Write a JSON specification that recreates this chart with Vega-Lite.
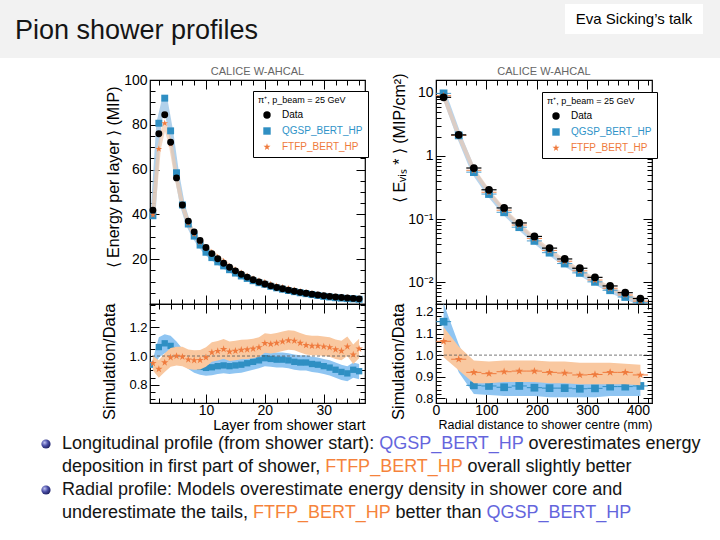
{
  "$schema": "https://vega.github.io/schema/vega-lite/v6.json",
  "background": "white",
  "padding": 0,
  "bounds": "flush",
  "columns": 4,
  "align": "each",
  "spacing": 0,
  "config": {
    "font": "Liberation Sans",
    "view": {"stroke": null},
    "axis": {"domain": false, "grid": false, "labelColor": "black", "titleColor": "black", "tickColor": "black", "titleFontWeight": "normal", "labelFont": "Liberation Sans", "titleFont": "Liberation Sans", "tickWidth": 1, "labelFlush": false, "labelOverlap": false}
  },
  "resolve": {"scale": {"x": "independent", "y": "independent", "color": "independent", "shape": "independent"}},
  "datasets": {
    "blank": [{"t": ""}],
    "long": [
      {"layer": 1, "Data": 41.9, "QGSP_BERT_HP": 39.4, "FTFP_BERT_HP": 39.8, "rq": 0.94, "rq_lo": 0.9, "rq_hi": 0.98, "rf": 0.95, "rf_lo": 0.9, "rf_hi": 1.0},
      {"layer": 2, "Data": 76.0, "QGSP_BERT_HP": 80.7, "FTFP_BERT_HP": 69.2, "rq": 1.062, "rq_lo": 0.99, "rq_hi": 1.13, "rf": 0.91, "rf_lo": 0.85, "rf_hi": 0.97},
      {"layer": 3, "Data": 84.5, "QGSP_BERT_HP": 91.9, "FTFP_BERT_HP": 80.7, "rq": 1.088, "rq_lo": 1.02, "rq_hi": 1.15, "rf": 0.955, "rf_lo": 0.89, "rf_hi": 1.02},
      {"layer": 4, "Data": 72.2, "QGSP_BERT_HP": 77.3, "FTFP_BERT_HP": 71.5, "rq": 1.07, "rq_lo": 1.0, "rq_hi": 1.14, "rf": 0.99, "rf_lo": 0.925, "rf_hi": 1.055},
      {"layer": 5, "Data": 56.3, "QGSP_BERT_HP": 58.6, "FTFP_BERT_HP": 56.3, "rq": 1.04, "rq_lo": 0.97, "rq_hi": 1.1, "rf": 1.0, "rf_lo": 0.935, "rf_hi": 1.065},
      {"layer": 6, "Data": 44.2, "QGSP_BERT_HP": 44.2, "FTFP_BERT_HP": 44.0, "rq": 1.0, "rq_lo": 0.945, "rq_hi": 1.05, "rf": 0.995, "rf_lo": 0.93, "rf_hi": 1.065},
      {"layer": 7, "Data": 37.0, "QGSP_BERT_HP": 35.7, "FTFP_BERT_HP": 36.1, "rq": 0.965, "rq_lo": 0.91, "rq_hi": 1.015, "rf": 0.975, "rf_lo": 0.91, "rf_hi": 1.045},
      {"layer": 8, "Data": 32.2, "QGSP_BERT_HP": 30.3, "FTFP_BERT_HP": 31.2, "rq": 0.94, "rq_lo": 0.885, "rq_hi": 0.99, "rf": 0.97, "rf_lo": 0.905, "rf_hi": 1.04},
      {"layer": 9, "Data": 28.4, "QGSP_BERT_HP": 26.3, "FTFP_BERT_HP": 27.6, "rq": 0.925, "rq_lo": 0.87, "rq_hi": 0.975, "rf": 0.972, "rf_lo": 0.907, "rf_hi": 1.042},
      {"layer": 10, "Data": 25.2, "QGSP_BERT_HP": 23.1, "FTFP_BERT_HP": 24.9, "rq": 0.918, "rq_lo": 0.863, "rq_hi": 0.968, "rf": 0.99, "rf_lo": 0.925, "rf_hi": 1.06},
      {"layer": 11, "Data": 22.5, "QGSP_BERT_HP": 20.7, "FTFP_BERT_HP": 23.1, "rq": 0.922, "rq_lo": 0.867, "rq_hi": 0.972, "rf": 1.025, "rf_lo": 0.96, "rf_hi": 1.095},
      {"layer": 12, "Data": 20.2, "QGSP_BERT_HP": 18.8, "FTFP_BERT_HP": 20.9, "rq": 0.93, "rq_lo": 0.875, "rq_hi": 0.98, "rf": 1.034, "rf_lo": 0.969, "rf_hi": 1.104},
      {"layer": 13, "Data": 18.2, "QGSP_BERT_HP": 17.0, "FTFP_BERT_HP": 19.1, "rq": 0.935, "rq_lo": 0.88, "rq_hi": 0.985, "rf": 1.047, "rf_lo": 0.982, "rf_hi": 1.117},
      {"layer": 14, "Data": 16.4, "QGSP_BERT_HP": 15.3, "FTFP_BERT_HP": 16.9, "rq": 0.93, "rq_lo": 0.875, "rq_hi": 0.98, "rf": 1.03, "rf_lo": 0.965, "rf_hi": 1.1},
      {"layer": 15, "Data": 14.8, "QGSP_BERT_HP": 13.8, "FTFP_BERT_HP": 15.3, "rq": 0.935, "rq_lo": 0.88, "rq_hi": 0.985, "rf": 1.035, "rf_lo": 0.97, "rf_hi": 1.105},
      {"layer": 16, "Data": 13.3, "QGSP_BERT_HP": 12.5, "FTFP_BERT_HP": 13.9, "rq": 0.94, "rq_lo": 0.885, "rq_hi": 0.99, "rf": 1.042, "rf_lo": 0.977, "rf_hi": 1.112},
      {"layer": 17, "Data": 12.0, "QGSP_BERT_HP": 11.4, "FTFP_BERT_HP": 12.5, "rq": 0.95, "rq_lo": 0.895, "rq_hi": 1.0, "rf": 1.045, "rf_lo": 0.98, "rf_hi": 1.115},
      {"layer": 18, "Data": 10.8, "QGSP_BERT_HP": 10.4, "FTFP_BERT_HP": 11.3, "rq": 0.96, "rq_lo": 0.905, "rq_hi": 1.01, "rf": 1.05, "rf_lo": 0.985, "rf_hi": 1.12},
      {"layer": 19, "Data": 9.8, "QGSP_BERT_HP": 9.5, "FTFP_BERT_HP": 10.4, "rq": 0.97, "rq_lo": 0.915, "rq_hi": 1.02, "rf": 1.06, "rf_lo": 0.995, "rf_hi": 1.13},
      {"layer": 20, "Data": 8.9, "QGSP_BERT_HP": 8.8, "FTFP_BERT_HP": 9.7, "rq": 0.985, "rq_lo": 0.93, "rq_hi": 1.035, "rf": 1.088, "rf_lo": 1.023, "rf_hi": 1.158},
      {"layer": 21, "Data": 8.1, "QGSP_BERT_HP": 7.9, "FTFP_BERT_HP": 8.8, "rq": 0.98, "rq_lo": 0.925, "rq_hi": 1.03, "rf": 1.083, "rf_lo": 1.018, "rf_hi": 1.153},
      {"layer": 22, "Data": 7.4, "QGSP_BERT_HP": 7.2, "FTFP_BERT_HP": 8.1, "rq": 0.975, "rq_lo": 0.92, "rq_hi": 1.025, "rf": 1.09, "rf_lo": 1.025, "rf_hi": 1.16},
      {"layer": 23, "Data": 6.8, "QGSP_BERT_HP": 6.6, "FTFP_BERT_HP": 7.5, "rq": 0.975, "rq_lo": 0.92, "rq_hi": 1.025, "rf": 1.1, "rf_lo": 1.035, "rf_hi": 1.17},
      {"layer": 24, "Data": 6.2, "QGSP_BERT_HP": 6.0, "FTFP_BERT_HP": 6.9, "rq": 0.97, "rq_lo": 0.915, "rq_hi": 1.02, "rf": 1.108, "rf_lo": 1.043, "rf_hi": 1.178},
      {"layer": 25, "Data": 5.7, "QGSP_BERT_HP": 5.5, "FTFP_BERT_HP": 6.3, "rq": 0.96, "rq_lo": 0.905, "rq_hi": 1.01, "rf": 1.105, "rf_lo": 1.04, "rf_hi": 1.175},
      {"layer": 26, "Data": 5.2, "QGSP_BERT_HP": 5.0, "FTFP_BERT_HP": 5.7, "rq": 0.955, "rq_lo": 0.9, "rq_hi": 1.005, "rf": 1.09, "rf_lo": 1.025, "rf_hi": 1.16},
      {"layer": 27, "Data": 4.8, "QGSP_BERT_HP": 4.6, "FTFP_BERT_HP": 5.2, "rq": 0.955, "rq_lo": 0.9, "rq_hi": 1.005, "rf": 1.075, "rf_lo": 1.01, "rf_hi": 1.145},
      {"layer": 28, "Data": 4.4, "QGSP_BERT_HP": 4.2, "FTFP_BERT_HP": 4.7, "rq": 0.945, "rq_lo": 0.89, "rq_hi": 0.995, "rf": 1.07, "rf_lo": 1.005, "rf_hi": 1.14},
      {"layer": 29, "Data": 4.0, "QGSP_BERT_HP": 3.8, "FTFP_BERT_HP": 4.3, "rq": 0.94, "rq_lo": 0.885, "rq_hi": 0.99, "rf": 1.07, "rf_lo": 1.005, "rf_hi": 1.14},
      {"layer": 30, "Data": 3.7, "QGSP_BERT_HP": 3.4, "FTFP_BERT_HP": 3.9, "rq": 0.93, "rq_lo": 0.875, "rq_hi": 0.98, "rf": 1.065, "rf_lo": 1.0, "rf_hi": 1.135},
      {"layer": 31, "Data": 3.4, "QGSP_BERT_HP": 3.1, "FTFP_BERT_HP": 3.6, "rq": 0.92, "rq_lo": 0.865, "rq_hi": 0.97, "rf": 1.06, "rf_lo": 0.995, "rf_hi": 1.13},
      {"layer": 32, "Data": 3.1, "QGSP_BERT_HP": 2.8, "FTFP_BERT_HP": 3.2, "rq": 0.905, "rq_lo": 0.85, "rq_hi": 0.955, "rf": 1.045, "rf_lo": 0.98, "rf_hi": 1.115},
      {"layer": 33, "Data": 2.9, "QGSP_BERT_HP": 2.6, "FTFP_BERT_HP": 3.0, "rq": 0.89, "rq_lo": 0.835, "rq_hi": 0.94, "rf": 1.035, "rf_lo": 0.97, "rf_hi": 1.105},
      {"layer": 34, "Data": 2.7, "QGSP_BERT_HP": 2.4, "FTFP_BERT_HP": 2.9, "rq": 0.88, "rq_lo": 0.825, "rq_hi": 0.93, "rf": 1.065, "rf_lo": 1.0, "rf_hi": 1.135},
      {"layer": 35, "Data": 2.5, "QGSP_BERT_HP": 2.3, "FTFP_BERT_HP": 2.5, "rq": 0.905, "rq_lo": 0.85, "rq_hi": 0.955, "rf": 1.01, "rf_lo": 0.945, "rf_hi": 1.08},
      {"layer": 36, "Data": 2.3, "QGSP_BERT_HP": 2.1, "FTFP_BERT_HP": 2.4, "rq": 0.895, "rq_lo": 0.84, "rq_hi": 0.945, "rf": 1.05, "rf_lo": 0.985, "rf_hi": 1.12}
    ],
    "rad": [
      {"r": 15, "r_lo": 0, "r_hi": 30, "Data": 8.5, "QGSP_BERT_HP": 9.82, "FTFP_BERT_HP": 9.04, "rq": 1.155, "rq_lo": 1.1, "rq_hi": 1.24, "rf": 1.064, "rf_lo": 0.99, "rf_hi": 1.13},
      {"r": 45, "r_lo": 30, "r_hi": 60, "Data": 2.16, "QGSP_BERT_HP": 2.12, "FTFP_BERT_HP": 2.12, "rq": 0.98, "rq_lo": 0.92, "rq_hi": 1.05, "rf": 0.981, "rf_lo": 0.93, "rf_hi": 1.04},
      {"r": 75, "r_lo": 60, "r_hi": 90, "Data": 0.644, "QGSP_BERT_HP": 0.554, "FTFP_BERT_HP": 0.592, "rq": 0.86, "rq_lo": 0.82, "rq_hi": 0.9, "rf": 0.92, "rf_lo": 0.87, "rf_hi": 0.975},
      {"r": 105, "r_lo": 90, "r_hi": 120, "Data": 0.291, "QGSP_BERT_HP": 0.249, "FTFP_BERT_HP": 0.266, "rq": 0.857, "rq_lo": 0.815, "rq_hi": 0.89, "rf": 0.914, "rf_lo": 0.87, "rf_hi": 0.97},
      {"r": 135, "r_lo": 120, "r_hi": 150, "Data": 0.15, "QGSP_BERT_HP": 0.128, "FTFP_BERT_HP": 0.138, "rq": 0.851, "rq_lo": 0.81, "rq_hi": 0.89, "rf": 0.923, "rf_lo": 0.875, "rf_hi": 0.975},
      {"r": 165, "r_lo": 150, "r_hi": 180, "Data": 0.0867, "QGSP_BERT_HP": 0.0743, "FTFP_BERT_HP": 0.0803, "rq": 0.857, "rq_lo": 0.81, "rq_hi": 0.895, "rf": 0.926, "rf_lo": 0.875, "rf_hi": 0.975},
      {"r": 195, "r_lo": 180, "r_hi": 210, "Data": 0.053, "QGSP_BERT_HP": 0.045, "FTFP_BERT_HP": 0.0491, "rq": 0.849, "rq_lo": 0.81, "rq_hi": 0.89, "rf": 0.926, "rf_lo": 0.875, "rf_hi": 0.975},
      {"r": 225, "r_lo": 210, "r_hi": 240, "Data": 0.0346, "QGSP_BERT_HP": 0.0293, "FTFP_BERT_HP": 0.0318, "rq": 0.847, "rq_lo": 0.805, "rq_hi": 0.89, "rf": 0.92, "rf_lo": 0.87, "rf_hi": 0.97},
      {"r": 255, "r_lo": 240, "r_hi": 270, "Data": 0.0233, "QGSP_BERT_HP": 0.0197, "FTFP_BERT_HP": 0.0214, "rq": 0.847, "rq_lo": 0.805, "rq_hi": 0.885, "rf": 0.917, "rf_lo": 0.87, "rf_hi": 0.97},
      {"r": 285, "r_lo": 270, "r_hi": 300, "Data": 0.0166, "QGSP_BERT_HP": 0.014, "FTFP_BERT_HP": 0.0151, "rq": 0.844, "rq_lo": 0.805, "rq_hi": 0.885, "rf": 0.908, "rf_lo": 0.865, "rf_hi": 0.965},
      {"r": 315, "r_lo": 300, "r_hi": 330, "Data": 0.0119, "QGSP_BERT_HP": 0.0101, "FTFP_BERT_HP": 0.0108, "rq": 0.846, "rq_lo": 0.805, "rq_hi": 0.885, "rf": 0.91, "rf_lo": 0.865, "rf_hi": 0.965},
      {"r": 345, "r_lo": 330, "r_hi": 360, "Data": 0.0087, "QGSP_BERT_HP": 0.00743, "FTFP_BERT_HP": 0.008, "rq": 0.854, "rq_lo": 0.81, "rq_hi": 0.89, "rf": 0.92, "rf_lo": 0.865, "rf_hi": 0.965},
      {"r": 375, "r_lo": 360, "r_hi": 390, "Data": 0.0068, "QGSP_BERT_HP": 0.00581, "FTFP_BERT_HP": 0.00626, "rq": 0.854, "rq_lo": 0.81, "rq_hi": 0.89, "rf": 0.92, "rf_lo": 0.865, "rf_hi": 0.96},
      {"r": 405, "r_lo": 390, "r_hi": 420, "Data": 0.0055, "QGSP_BERT_HP": 0.00471, "FTFP_BERT_HP": 0.00499, "rq": 0.857, "rq_lo": 0.81, "rq_hi": 0.895, "rf": 0.908, "rf_lo": 0.86, "rf_hi": 0.955}
    ]
  },
  "concat": [
    {"width": 150, "height": 58, "view": {"fill": "#f2f2f2", "stroke": null}, "data": {"name": "blank"}, "mark": {"type": "text"}, "encoding": {"text": {"field": "t"}}},
    {"width": 215, "height": 58, "view": {"fill": "#f2f2f2", "stroke": null}, "data": {"name": "blank"}, "mark": {"type": "text"}, "encoding": {"text": {"field": "t"}}},
    {"width": 71, "height": 58, "view": {"fill": "#f2f2f2", "stroke": null}, "data": {"name": "blank"}, "mark": {"type": "text"}, "encoding": {"text": {"field": "t"}}},
    {
      "width": 284, "height": 58,
      "view": {"fill": "#f2f2f2", "stroke": null},
      "data": {"values": [{"item": "title", "text": "Pion shower profiles"}, {"item": "badge", "text": "Eva Sicking’s talk"}]},
      "encoding": {
        "x": {"field": "item", "type": "nominal", "scale": {"type": "point", "domain": ["title", "badge"], "range": [-421, 198], "padding": 0}, "axis": null},
        "y": {"field": "item", "type": "nominal", "scale": {"type": "point", "domain": ["title", "badge"], "range": [31, 19], "padding": 0}, "axis": null}
      },
      "layer": [
        {"transform": [{"filter": "datum.item === 'badge'"}], "mark": {"type": "point", "shape": "M-1,-0.217L1,-0.217L1,0.217L-1,0.217Z", "filled": true, "color": "white", "size": 19044, "opacity": 1, "strokeWidth": 0}},
        {"transform": [{"filter": "datum.item === 'title'"}], "mark": {"type": "text", "align": "left", "baseline": "middle", "fontSize": 27, "font": "Liberation Sans", "color": "#151515"}, "encoding": {"text": {"field": "text"}}},
        {"transform": [{"filter": "datum.item === 'badge'"}], "mark": {"type": "text", "align": "center", "baseline": "middle", "fontSize": 15, "font": "Liberation Sans", "color": "black"}, "encoding": {"text": {"field": "text"}}}
      ]
    },

    {"width": 150, "height": 22, "data": {"name": "blank"}, "mark": {"type": "text"}, "encoding": {"text": {"field": "t"}}},
    {"width": 215, "height": 22, "data": {"name": "blank"}, "mark": {"type": "text"}, "encoding": {"text": {"field": "t"}}},
    {"width": 71, "height": 22, "data": {"name": "blank"}, "mark": {"type": "text"}, "encoding": {"text": {"field": "t"}}},
    {"width": 284, "height": 22, "data": {"name": "blank"}, "mark": {"type": "text"}, "encoding": {"text": {"field": "t"}}},

    {"width": 150, "height": 224, "data": {"name": "blank"}, "mark": {"type": "text"}, "encoding": {"text": {"field": "t"}}},
    {
      "width": 215, "height": 224,
      "title": {"text": "CALICE W-AHCAL", "fontSize": 11, "fontWeight": "normal", "color": "#666666", "font": "Liberation Sans", "offset": -4},
      "view": {"stroke": "black", "strokeWidth": 1.2, "fill": "white"},
      "data": {"name": "long"},
      "resolve": {"axis": {"x": "independent", "y": "independent"}},
      "layer": [
        {"mark": {"type": "line", "color": "#a3c9e8", "strokeWidth": 5, "opacity": 0.85},
         "encoding": {
           "x": {"field": "layer", "type": "quantitative", "scale": {"domain": [0.5, 37], "nice": false, "zero": false},
             "axis": {"orient": "bottom", "values": [2,4,6,8,10,12,14,16,18,20,22,24,26,28,30,32,34,36], "labels": false, "title": null, "tickSize": {"condition": {"test": "datum.value % 10 === 0", "value": -9}, "value": -5}}},
           "y": {"field": "QGSP_BERT_HP", "type": "quantitative", "scale": {"domain": [0, 100], "nice": false},
             "axis": {"orient": "left", "values": [5,10,15,20,25,30,35,40,45,50,55,60,65,70,75,80,85,90,95,100], "labelExpr": "datum.value % 20 === 0 ? datum.label : ''", "labelFontSize": 14, "labelPadding": 12, "tickSize": {"condition": {"test": "datum.value % 20 === 0", "value": -9}, "value": -5}, "title": "⟨ Energy per layer ⟩ (MIP)", "titleFontSize": 16, "titleAngle": -90, "titleAlign": "right", "titleBaseline": "middle", "titleX": -37, "titleY": 6}}
         }},
        {"mark": {"type": "line", "color": "#eec9ad", "strokeWidth": 4, "opacity": 0.7},
         "encoding": {"x": {"field": "layer", "type": "quantitative", "axis": null}, "y": {"field": "FTFP_BERT_HP", "type": "quantitative", "axis": null}}},
        {"transform": [{"fold": ["Data", "QGSP_BERT_HP", "FTFP_BERT_HP"], "as": ["series", "value"]}],
         "mark": {"type": "point", "filled": true, "size": 48, "opacity": 1, "strokeWidth": 0},
         "encoding": {
           "x": {"field": "layer", "type": "quantitative", "axis": {"orient": "top", "values": [2,4,6,8,10,12,14,16,18,20,22,24,26,28,30,32,34,36], "labels": false, "title": null, "tickSize": {"condition": {"test": "datum.value % 10 === 0", "value": -9}, "value": -5}}},
           "y": {"field": "value", "type": "quantitative", "axis": {"orient": "right", "values": [5,10,15,20,25,30,35,40,45,50,55,60,65,70,75,80,85,90,95,100], "labels": false, "title": null, "tickSize": {"condition": {"test": "datum.value % 20 === 0", "value": -9}, "value": -5}}},
           "color": {"field": "series", "type": "nominal", "scale": {"domain": ["Data", "QGSP_BERT_HP", "FTFP_BERT_HP"], "range": ["black", "#2f8fc3", "#ef7b3e"]},
             "legend": {"orient": "none", "legendX": 103, "legendY": 11, "title": "π⁺, p_beam = 25 GeV", "titleFontSize": 9, "titleFontWeight": "normal", "titleColor": "black", "titlePadding": 5, "labelFontSize": 10, "labelColor": {"expr": "datum.value === 'Data' ? 'black' : (datum.value === 'QGSP_BERT_HP' ? '#2f93c8' : '#ee7a3c')"}, "symbolSize": 55, "rowPadding": 6, "padding": 5, "strokeColor": "black", "fillColor": "white", "symbolOffset": 4, "labelOffset": 10}},
           "shape": {"field": "series", "type": "nominal", "scale": {"domain": ["Data", "QGSP_BERT_HP", "FTFP_BERT_HP"], "range": ["circle", "square", "M0,-1L0.2245,-0.309L0.951,-0.309L0.363,0.118L0.588,0.809L0,0.382L-0.588,0.809L-0.363,0.118L-0.951,-0.309L-0.2245,-0.309Z"]},
             "legend": {"orient": "none", "legendX": 103, "legendY": 11, "title": "π⁺, p_beam = 25 GeV", "titleFontSize": 9, "titleFontWeight": "normal", "titleColor": "black", "titlePadding": 5, "labelFontSize": 10, "labelColor": {"expr": "datum.value === 'Data' ? 'black' : (datum.value === 'QGSP_BERT_HP' ? '#2f93c8' : '#ee7a3c')"}, "symbolSize": 55, "rowPadding": 6, "padding": 5, "strokeColor": "black", "fillColor": "white", "symbolOffset": 4, "labelOffset": 10}},
           "order": {"field": "series", "sort": "descending"}
         }}
      ]
    },
    {"width": 71, "height": 224, "data": {"name": "blank"}, "mark": {"type": "text"}, "encoding": {"text": {"field": "t"}}},
    {
      "width": 216, "height": 224,
      "title": {"text": "CALICE W-AHCAL", "fontSize": 11, "fontWeight": "normal", "color": "#666666", "font": "Liberation Sans", "offset": -4},
      "view": {"stroke": "black", "strokeWidth": 1.2, "fill": "white"},
      "data": {"name": "rad"},
      "resolve": {"axis": {"x": "independent", "y": "independent"}},
      "layer": [
        {"mark": {"type": "line", "color": "#a6cbe8", "strokeWidth": 5, "opacity": 0.8},
         "encoding": {
           "x": {"field": "r", "type": "quantitative", "scale": {"domain": [0, 428], "nice": false, "zero": false},
             "axis": {"orient": "bottom", "values": [0,20,40,60,80,100,120,140,160,180,200,220,240,260,280,300,320,340,360,380,400,420], "labels": false, "title": null, "tickSize": {"condition": {"test": "datum.value % 100 === 0", "value": -9}, "value": -5}}},
           "y": {"field": "QGSP_BERT_HP", "type": "quantitative", "scale": {"type": "log", "domain": [0.0045, 16], "nice": false},
             "axis": {"orient": "left", "values": [0.005,0.006,0.007,0.008,0.009,0.01,0.02,0.03,0.04,0.05,0.06,0.07,0.08,0.09,0.1,0.2,0.3,0.4,0.5,0.6,0.7,0.8,0.9,1,2,3,4,5,6,7,8,9,10], "labelExpr": "abs(log(datum.value)/LN10 - round(log(datum.value)/LN10)) > 0.001 ? '' : (datum.value > 5 ? '10' : (datum.value > 0.5 ? '1' : (datum.value > 0.05 ? '10⁻¹' : '10⁻²')))", "labelFontSize": 14, "labelPadding": 12, "tickSize": {"condition": {"test": "abs(log(datum.value)/LN10 - round(log(datum.value)/LN10)) < 0.001", "value": -9}, "value": -5}, "title": "⟨ Eᵥᵢₛ * ⟩ (MIP/cm²)", "titleFontSize": 16, "titleAngle": -90, "titleAlign": "right", "titleBaseline": "middle", "titleX": -37, "titleY": -7}}
         }},
        {"mark": {"type": "line", "color": "#e9c9b3", "strokeWidth": 4, "opacity": 0.7},
         "encoding": {"x": {"field": "r", "type": "quantitative", "axis": null}, "y": {"field": "FTFP_BERT_HP", "type": "quantitative", "axis": null}}},
        {"mark": {"type": "rule", "color": "#4a9ccc", "strokeWidth": 1},
         "encoding": {"x": {"field": "r_lo", "type": "quantitative", "axis": null}, "x2": {"field": "r_hi"}, "y": {"field": "QGSP_BERT_HP", "type": "quantitative", "axis": null}}},
        {"mark": {"type": "rule", "color": "#f08850", "strokeWidth": 1},
         "encoding": {"x": {"field": "r_lo", "type": "quantitative", "axis": null}, "x2": {"field": "r_hi"}, "y": {"field": "FTFP_BERT_HP", "type": "quantitative", "axis": null}}},
        {"mark": {"type": "rule", "color": "black", "strokeWidth": 1.2},
         "encoding": {"x": {"field": "r_lo", "type": "quantitative", "axis": null}, "x2": {"field": "r_hi"}, "y": {"field": "Data", "type": "quantitative", "axis": null}}},
        {"transform": [{"fold": ["Data", "QGSP_BERT_HP", "FTFP_BERT_HP"], "as": ["series", "value"]}],
         "mark": {"type": "point", "filled": true, "size": 60, "opacity": 1, "strokeWidth": 0},
         "encoding": {
           "x": {"field": "r", "type": "quantitative", "axis": {"orient": "top", "values": [0,20,40,60,80,100,120,140,160,180,200,220,240,260,280,300,320,340,360,380,400,420], "labels": false, "title": null, "tickSize": {"condition": {"test": "datum.value % 100 === 0", "value": -9}, "value": -5}}},
           "y": {"field": "value", "type": "quantitative", "axis": {"orient": "right", "values": [0.005,0.006,0.007,0.008,0.009,0.01,0.02,0.03,0.04,0.05,0.06,0.07,0.08,0.09,0.1,0.2,0.3,0.4,0.5,0.6,0.7,0.8,0.9,1,2,3,4,5,6,7,8,9,10], "labels": false, "title": null, "tickSize": {"condition": {"test": "abs(log(datum.value)/LN10 - round(log(datum.value)/LN10)) < 0.001", "value": -9}, "value": -5}}},
           "color": {"field": "series", "type": "nominal", "scale": {"domain": ["Data", "QGSP_BERT_HP", "FTFP_BERT_HP"], "range": ["black", "#2f8fc3", "#ef7b3e"]},
             "legend": {"orient": "none", "legendX": 106, "legendY": 12, "title": "π⁺, p_beam = 25 GeV", "titleFontSize": 9, "titleFontWeight": "normal", "titleColor": "black", "titlePadding": 5, "labelFontSize": 10, "labelColor": {"expr": "datum.value === 'Data' ? 'black' : (datum.value === 'QGSP_BERT_HP' ? '#2f93c8' : '#ee7a3c')"}, "symbolSize": 55, "rowPadding": 6, "padding": 5, "strokeColor": "black", "fillColor": "white", "symbolOffset": 4, "labelOffset": 10}},
           "shape": {"field": "series", "type": "nominal", "scale": {"domain": ["Data", "QGSP_BERT_HP", "FTFP_BERT_HP"], "range": ["circle", "square", "M0,-1L0.2245,-0.309L0.951,-0.309L0.363,0.118L0.588,0.809L0,0.382L-0.588,0.809L-0.363,0.118L-0.951,-0.309L-0.2245,-0.309Z"]},
             "legend": {"orient": "none", "legendX": 106, "legendY": 12, "title": "π⁺, p_beam = 25 GeV", "titleFontSize": 9, "titleFontWeight": "normal", "titleColor": "black", "titlePadding": 5, "labelFontSize": 10, "labelColor": {"expr": "datum.value === 'Data' ? 'black' : (datum.value === 'QGSP_BERT_HP' ? '#2f93c8' : '#ee7a3c')"}, "symbolSize": 55, "rowPadding": 6, "padding": 5, "strokeColor": "black", "fillColor": "white", "symbolOffset": 4, "labelOffset": 10}},
           "order": {"field": "series", "sort": "descending"}
         }}
      ]
    },

    {"width": 150, "height": 99, "data": {"name": "blank"}, "mark": {"type": "text"}, "encoding": {"text": {"field": "t"}}},
    {
      "width": 215, "height": 99,
      "view": {"stroke": "black", "strokeWidth": 1.2, "fill": "white"},
      "data": {"name": "long"},
      "resolve": {"axis": {"x": "independent", "y": "independent"}},
      "layer": [
        {"mark": {"type": "area", "color": "#8fc5f2", "opacity": 1, "clip": true},
         "encoding": {
           "x": {"field": "layer", "type": "quantitative", "scale": {"domain": [0.5, 37], "nice": false, "zero": false},
             "axis": {"orient": "bottom", "values": [2,4,6,8,10,12,14,16,18,20,22,24,26,28,30,32,34,36], "labelExpr": "datum.value % 10 === 0 ? datum.label : ''", "labelFontSize": 14, "labelPadding": 9, "tickSize": {"condition": {"test": "datum.value % 10 === 0", "value": -9}, "value": -5}, "title": "Layer from shower start", "titleFontSize": 14.5, "titleAlign": "right", "titleBaseline": "alphabetic", "titleX": 215, "titleY": 26}},
           "y": {"field": "rq_lo", "type": "quantitative", "scale": {"domain": [0.675, 1.36], "nice": false, "zero": false},
             "axis": {"orient": "left", "values": [0.7,0.75,0.8,0.85,0.9,0.95,1,1.05,1.1,1.15,1.2,1.25,1.3,1.35], "labelExpr": "abs(datum.value*5 - round(datum.value*5)) < 0.001 ? format(datum.value, '.1f') : ''", "labelFontSize": 13, "labelPadding": 12, "tickSize": {"condition": {"test": "abs(datum.value*5 - round(datum.value*5)) < 0.001", "value": -9}, "value": -5}, "title": "Simulation/Data", "titleFontSize": 16.5, "titleAngle": -90, "titleAlign": "right", "titleBaseline": "middle", "titleX": -41, "titleY": -1}},
           "y2": {"field": "rq_hi"}
         }},
        {"mark": {"type": "point", "shape": "square", "filled": true, "size": 40, "color": "#2f8fc3", "opacity": 1, "strokeWidth": 0, "clip": true},
         "encoding": {"x": {"field": "layer", "type": "quantitative", "axis": null}, "y": {"field": "rq", "type": "quantitative", "axis": null}}},
        {"mark": {"type": "area", "color": "#f9c8a0", "opacity": 1, "clip": true},
         "encoding": {"x": {"field": "layer", "type": "quantitative", "axis": null}, "y": {"field": "rf_lo", "type": "quantitative", "axis": null}, "y2": {"field": "rf_hi"}}},
        {"data": {"values": [{"ref": 1}]},
         "mark": {"type": "rule", "color": "#555555", "strokeWidth": 0.8, "strokeDash": [3, 2]},
         "encoding": {"y": {"field": "ref", "type": "quantitative", "axis": null}}},
        {"mark": {"type": "point", "shape": "M0,-1L0.2245,-0.309L0.951,-0.309L0.363,0.118L0.588,0.809L0,0.382L-0.588,0.809L-0.363,0.118L-0.951,-0.309L-0.2245,-0.309Z", "filled": true, "size": 60, "color": "#ef7b3e", "opacity": 1, "strokeWidth": 0, "clip": true},
         "encoding": {
           "x": {"field": "layer", "type": "quantitative", "axis": {"orient": "top", "values": [2,4,6,8,10,12,14,16,18,20,22,24,26,28,30,32,34,36], "labels": false, "title": null, "tickSize": {"condition": {"test": "datum.value % 10 === 0", "value": -9}, "value": -5}}},
           "y": {"field": "rf", "type": "quantitative", "axis": {"orient": "right", "values": [0.7,0.75,0.8,0.85,0.9,0.95,1,1.05,1.1,1.15,1.2,1.25,1.3,1.35], "labels": false, "title": null, "tickSize": {"condition": {"test": "abs(datum.value*5 - round(datum.value*5)) < 0.001", "value": -9}, "value": -5}}}
         }}
      ]
    },
    {"width": 71, "height": 99, "data": {"name": "blank"}, "mark": {"type": "text"}, "encoding": {"text": {"field": "t"}}},
    {
      "width": 216, "height": 99,
      "view": {"stroke": "black", "strokeWidth": 1.2, "fill": "white"},
      "data": {"name": "rad"},
      "resolve": {"axis": {"x": "independent", "y": "independent"}},
      "layer": [
        {"mark": {"type": "area", "color": "#8fc5f2", "opacity": 1, "clip": true},
         "encoding": {
           "x": {"field": "r", "type": "quantitative", "scale": {"domain": [0, 428], "nice": false, "zero": false},
             "axis": {"orient": "bottom", "values": [0,20,40,60,80,100,120,140,160,180,200,220,240,260,280,300,320,340,360,380,400,420], "labelExpr": "datum.value % 100 === 0 ? datum.label : ''", "labelFontSize": 14, "labelPadding": 9, "tickSize": {"condition": {"test": "datum.value % 100 === 0", "value": -9}, "value": -5}, "title": "Radial distance to shower centre (mm)", "titleFontSize": 12.5, "titleAlign": "right", "titleBaseline": "alphabetic", "titleX": 216, "titleY": 25}},
           "y": {"field": "rq_lo", "type": "quantitative", "scale": {"domain": [0.778, 1.237], "nice": false, "zero": false},
             "axis": {"orient": "left", "values": [0.78,0.8,0.82,0.84,0.86,0.88,0.9,0.92,0.94,0.96,0.98,1,1.02,1.04,1.06,1.08,1.1,1.12,1.14,1.16,1.18,1.2,1.22], "labelExpr": "abs(datum.value*10 - round(datum.value*10)) < 0.001 ? format(datum.value, '.1f') : ''", "labelFontSize": 13, "labelPadding": 12, "tickSize": {"condition": {"test": "abs(datum.value*10 - round(datum.value*10)) < 0.001", "value": -9}, "value": -5}, "title": "Simulation/Data", "titleFontSize": 16.5, "titleAngle": -90, "titleAlign": "right", "titleBaseline": "middle", "titleX": -38, "titleY": -1}},
           "y2": {"field": "rq_hi"}
         }},
        {"mark": {"type": "rule", "color": "#2f8fc3", "strokeWidth": 1, "clip": true},
         "encoding": {"x": {"field": "r_lo", "type": "quantitative", "axis": null}, "x2": {"field": "r_hi"}, "y": {"field": "rq", "type": "quantitative", "axis": null}}},
        {"mark": {"type": "point", "shape": "square", "filled": true, "size": 60, "color": "#2f8fc3", "opacity": 1, "strokeWidth": 0, "clip": true},
         "encoding": {"x": {"field": "r", "type": "quantitative", "axis": null}, "y": {"field": "rq", "type": "quantitative", "axis": null}}},
        {"mark": {"type": "area", "color": "#f9c8a0", "opacity": 1, "clip": true},
         "encoding": {"x": {"field": "r", "type": "quantitative", "axis": null}, "y": {"field": "rf_lo", "type": "quantitative", "axis": null}, "y2": {"field": "rf_hi"}}},
        {"data": {"values": [{"ref": 1}]},
         "mark": {"type": "rule", "color": "#555555", "strokeWidth": 0.8, "strokeDash": [3, 2]},
         "encoding": {"y": {"field": "ref", "type": "quantitative", "axis": null}}},
        {"mark": {"type": "rule", "color": "#ef7b3e", "strokeWidth": 1, "clip": true},
         "encoding": {"x": {"field": "r_lo", "type": "quantitative", "axis": null}, "x2": {"field": "r_hi"}, "y": {"field": "rf", "type": "quantitative", "axis": null}}},
        {"mark": {"type": "point", "shape": "M0,-1L0.2245,-0.309L0.951,-0.309L0.363,0.118L0.588,0.809L0,0.382L-0.588,0.809L-0.363,0.118L-0.951,-0.309L-0.2245,-0.309Z", "filled": true, "size": 70, "color": "#ef7b3e", "opacity": 1, "strokeWidth": 0, "clip": true},
         "encoding": {
           "x": {"field": "r", "type": "quantitative", "axis": {"orient": "top", "values": [0,20,40,60,80,100,120,140,160,180,200,220,240,260,280,300,320,340,360,380,400,420], "labels": false, "title": null, "tickSize": {"condition": {"test": "datum.value % 100 === 0", "value": -9}, "value": -5}}},
           "y": {"field": "rf", "type": "quantitative", "axis": {"orient": "right", "values": [0.78,0.8,0.82,0.84,0.86,0.88,0.9,0.92,0.94,0.96,0.98,1,1.02,1.04,1.06,1.08,1.1,1.12,1.14,1.16,1.18,1.2,1.22], "labels": false, "title": null, "tickSize": {"condition": {"test": "abs(datum.value*10 - round(datum.value*10)) < 0.001", "value": -9}, "value": -5}}}
         }}
      ]
    },

    {
      "width": 150, "height": 130,
      "encoding": {
        "x": {"field": "col", "type": "nominal", "scale": {"type": "point", "domain": ["bullet", "text"], "range": [46, 62], "padding": 0}, "axis": null},
        "y": {"field": "line", "type": "quantitative", "scale": {"domain": [1, 4], "range": [41, 110]}, "axis": null}
      },
      "layer": [
        {"data": {"values": [{"line": 1, "col": "bullet"}, {"line": 3, "col": "bullet"}]},
         "mark": {"type": "point", "filled": true, "size": 85, "strokeWidth": 0, "opacity": 1,
           "fill": {"gradient": "radial", "x1": 0.35, "y1": 0.35, "r1": 0, "x2": 0.35, "y2": 0.35, "r2": 0.7, "stops": [{"offset": 0, "color": "#c0c4f2"}, {"offset": 0.5, "color": "#4a4ea8"}, {"offset": 1, "color": "#1d1f5a"}]}}},
        {"data": {"values": [{"line": 1, "col": "text", "text": "Longitudinal profile (from shower start): QGSP_BERT_HP overestimates energy"}]},
         "mark": {"type": "text", "align": "left", "baseline": "middle", "fontSize": 18, "font": "Liberation Sans",
           "fill": {"gradient": "linear", "x1": 0, "y1": 0, "x2": 1, "y2": 0, "stops": [{"offset": 0, "color": "#151515"}, {"offset": 0.4928, "color": "#151515"}, {"offset": 0.4928, "color": "#6464dc"}, {"offset": 0.7269, "color": "#6464dc"}, {"offset": 0.7269, "color": "#151515"}, {"offset": 1, "color": "#151515"}]}},
         "encoding": {"text": {"field": "text"}}},
        {"data": {"values": [{"line": 2, "col": "text", "text": "deposition in first part of shower, FTFP_BERT_HP overall slightly better"}]},
         "mark": {"type": "text", "align": "left", "baseline": "middle", "fontSize": 18, "font": "Liberation Sans",
           "fill": {"gradient": "linear", "x1": 0, "y1": 0, "x2": 1, "y2": 0, "stops": [{"offset": 0, "color": "#151515"}, {"offset": 0.458, "color": "#151515"}, {"offset": 0.458, "color": "#f5823c"}, {"offset": 0.7084, "color": "#f5823c"}, {"offset": 0.7084, "color": "#151515"}, {"offset": 1, "color": "#151515"}]}},
         "encoding": {"text": {"field": "text"}}},
        {"data": {"values": [{"line": 3, "col": "text", "text": "Radial profile: Models overestimate energy density in shower core and"}]},
         "mark": {"type": "text", "align": "left", "baseline": "middle", "fontSize": 18, "font": "Liberation Sans", "color": "#151515"},
         "encoding": {"text": {"field": "text"}}},
        {"data": {"values": [{"line": 4, "col": "text", "text": "underestimate the tails, FTFP_BERT_HP better than QGSP_BERT_HP"}]},
         "mark": {"type": "text", "align": "left", "baseline": "middle", "fontSize": 18, "font": "Liberation Sans",
           "fill": {"gradient": "linear", "x1": 0, "y1": 0, "x2": 1, "y2": 0, "stops": [{"offset": 0, "color": "#151515"}, {"offset": 0.3307, "color": "#151515"}, {"offset": 0.3307, "color": "#f5823c"}, {"offset": 0.5815, "color": "#f5823c"}, {"offset": 0.5815, "color": "#151515"}, {"offset": 0.7413, "color": "#151515"}, {"offset": 0.7413, "color": "#6464dc"}, {"offset": 1, "color": "#6464dc"}]}},
         "encoding": {"text": {"field": "text"}}}
      ]
    },
    {"width": 215, "height": 130, "data": {"name": "blank"}, "mark": {"type": "text"}, "encoding": {"text": {"field": "t"}}},
    {"width": 71, "height": 130, "data": {"name": "blank"}, "mark": {"type": "text"}, "encoding": {"text": {"field": "t"}}},
    {"width": 284, "height": 130, "data": {"name": "blank"}, "mark": {"type": "text"}, "encoding": {"text": {"field": "t"}}}
  ]
}
